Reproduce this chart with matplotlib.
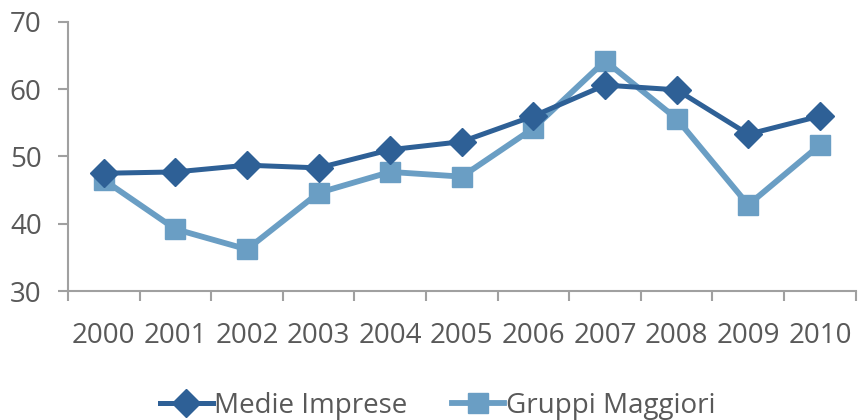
import numpy as np
import matplotlib.pyplot as plt
from matplotlib.ticker import FixedLocator

# ---------------- DATA ----------------
years = ["2000", "2001", "2002", "2003", "2004", "2005",
         "2006", "2007", "2008", "2009", "2010"]
medie_imprese = [47.5, 47.7, 48.7, 48.3, 51.0, 52.2, 56.0, 60.6, 59.9, 53.3, 56.0]
gruppi_maggiori = [46.5, 39.2, 36.2, 44.6, 47.7, 47.0, 54.2, 64.2, 55.6, 42.8, 51.7]
y_ticks = [30, 40, 50, 60, 70]

dark = "#2E6096"
light = "#6A9EC4"
axis_col = "#A0A0A0"
text_col = "#595959"

plt.rcParams["font.family"] = ["Open Sans", "DejaVu Sans"]

fig = plt.figure(figsize=(8.58, 4.2), dpi=100)
ax = fig.add_axes([0.0793, 0.307, 0.918, 0.641])

x = np.arange(len(years))
ax.plot(x, medie_imprese, color=dark, lw=3.6, marker="D", ms=14,
        label="Medie Imprese", zorder=3)
ax.plot(x, gruppi_maggiori, color=light, lw=4.2, marker="s", ms=14,
        label="Gruppi Maggiori", zorder=2)

ax.set_xlim(-0.5, len(years) - 0.5)
ax.set_ylim(30, 70)
ax.set_yticks(y_ticks)
ax.set_xticks(x)
ax.set_xticklabels(years)
ax.xaxis.set_minor_locator(FixedLocator(np.arange(-0.5, len(years), 1.0)))

ax.tick_params(axis="x", which="major", length=0, pad=22, labelsize=20, labelcolor=text_col)
ax.tick_params(axis="x", which="minor", length=7, width=1.5, color=axis_col)
ax.tick_params(axis="y", length=7, width=1.5, color=axis_col, pad=12,
               labelsize=20, labelcolor=text_col)

for s in ["top", "right"]:
    ax.spines[s].set_visible(False)
for s in ["left", "bottom"]:
    ax.spines[s].set_color(axis_col)
    ax.spines[s].set_linewidth(1.5)

leg = fig.legend(loc="lower center", bbox_to_anchor=(0.51, -0.06), ncol=2,
                 frameon=False, fontsize=20, handlelength=1.9,
                 handletextpad=0.05, columnspacing=1.6)
for t in leg.get_texts():
    t.set_color(text_col)

fig.savefig("out.png", dpi=100)
